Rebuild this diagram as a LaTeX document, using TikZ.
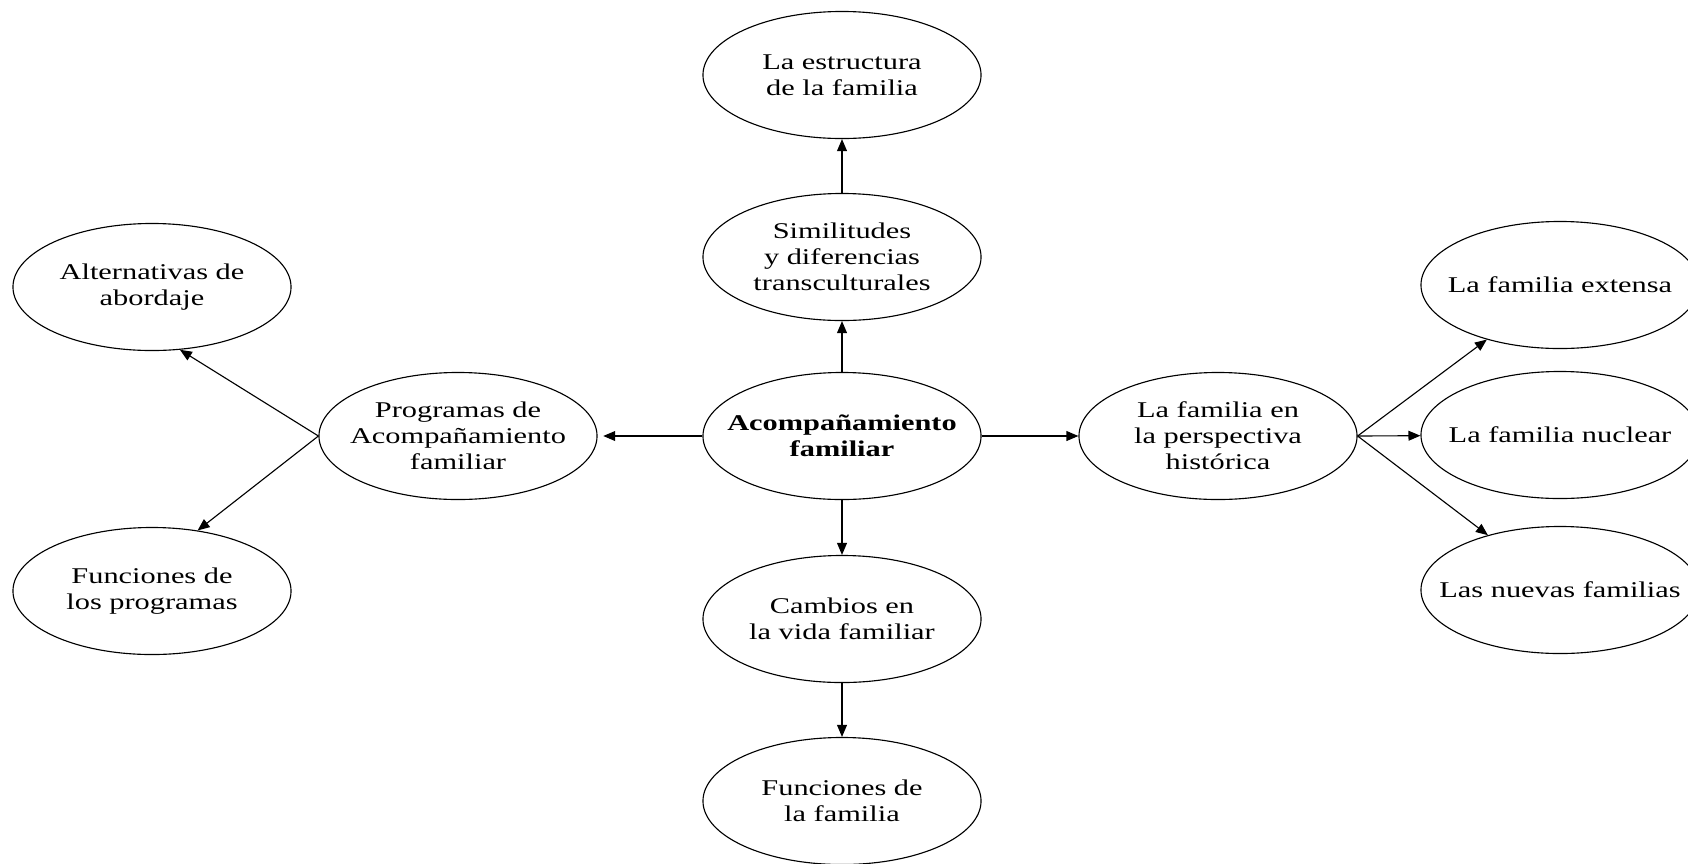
\documentclass[tikz,border=0pt]{standalone}
\usepackage{fontspec}
\setmainfont{Liberation Serif}[FakeStretch=1.35]
\usetikzlibrary{shapes.geometric,arrows.meta}

\begin{document}
\begin{tikzpicture}[x=0.025cm,y=-0.025cm,
	idea/.style={draw,ellipse,line width=0.8pt,minimum width=6.95cm,minimum height=3.175cm,
		inner xsep=-1cm,inner ysep=0pt,align=center,font=\fontsize{16pt}{18.5pt}\selectfont},
	flecha/.style={-{Triangle[length=8.5pt,width=7pt]},line width=0.8pt}]

\useasboundingbox (0,0) rectangle (1688,863);

\node [idea,font=\fontsize{16pt}{18.5pt}\selectfont\bfseries] (acomp) at (842,436) {Acompañamiento\\familiar};

\node [idea] (estru) at (842,75) {La estructura\\de la familia};
\node [idea] (simil) at (842,257) {Similitudes\\y diferencias\\transculturales};
\node [idea] (cambi) at (842,619) {Cambios en\\la vida familiar};
\node [idea] (funfa) at (842,801) {Funciones de\\la familia};

\node [idea] (progr) at (458,436) {Programas de\\Acompañamiento\\familiar};
\node [idea] (alter) at (152,287) {Alternativas de\\abordaje};
\node [idea] (funpr) at (152,591) {Funciones de\\los programas};

\node [idea] (persp) at (1218,436) {La familia en\\la perspectiva\\histórica};
\node [idea] (exten) at (1560,285) {La familia extensa};
\node [idea] (nucle) at (1560,435) {La familia nuclear};
\node [idea] (nueva) at (1560,590) {Las nuevas familias};

\draw [flecha] (acomp) -- (simil);
\draw [flecha] (simil) -- (estru);
\draw [flecha] (acomp) -- (cambi);
\draw [flecha] (cambi) -- (funfa);
\draw [flecha,shorten >=4pt] (acomp) -- (progr);
\draw [flecha] (acomp) -- (persp);

\draw [flecha] (progr.west) -- (alter.294);
\draw [flecha] (progr.west) -- (funpr.53);

\draw [flecha] (persp.east) -- (exten);
\draw [flecha] (persp.east) -- (nucle);
\draw [flecha] (persp.east) -- (nueva);

\end{tikzpicture}
\end{document}
